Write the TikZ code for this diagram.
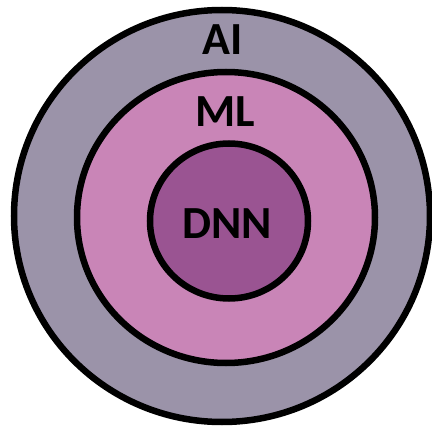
\documentclass[tikz,border=0pt]{standalone}
\usepackage{fontspec}
\setmainfont{Carlito}
\definecolor{aicol}{HTML}{9B93A9}
\definecolor{mlcol}{HTML}{C985B7}
\definecolor{dnncol}{HTML}{9A5492}
\tikzset{
  ring/.style={draw=black, line width=6.5pt},
  lbl/.style={inner sep=0pt, anchor=center, font=\fontsize{46}{50}\selectfont\bfseries, text=black}
}
\begin{document}
\begin{tikzpicture}[x=1pt,y=-1pt]
\useasboundingbox[fill=white] (0,0) rectangle (432,428);
\draw[ring, fill=aicol] (222,216) ellipse [x radius=208, y radius=206];
\draw[ring, fill=mlcol] (226,217.5) ellipse [x radius=149, y radius=145.5];
\draw[ring, fill=dnncol] (229,221) ellipse [x radius=79, y radius=77.5];
\node[lbl] (ai) at (223,40) {AI};
\node[lbl] (ml) at (225,112) {ML};
\node[lbl] (dnn) at (227,224) {DNN};
\end{tikzpicture}
\end{document}
